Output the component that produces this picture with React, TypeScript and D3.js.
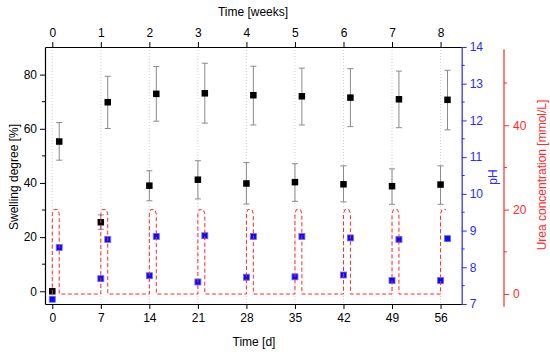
import * as d3 from 'd3';
import React, { useEffect, useRef } from 'react';

// swelling, group measured one day after urea dosing (days 1, 8, ...)
const swellHighDays = [1, 8, 15, 22, 29, 36, 43, 50, 57];
const swellHigh = [55.3, 69.8, 72.9, 73.1, 72.4, 72.0, 71.5, 70.9, 70.7];
const swellHighErrTop = [62.3, 79.4, 83.0, 84.2, 83.1, 82.4, 82.2, 81.3, 81.6];
const swellHighErrBot = [48.4, 60.1, 62.8, 62.1, 61.4, 61.4, 60.8, 60.4, 59.6];

// swelling, group measured on the dosing day (days 0, 7, ...)
const swellLowDays = [0, 7, 14, 21, 28, 35, 42, 49, 56];
const swellLow = [0, 25.5, 39.0, 41.2, 39.8, 40.3, 39.5, 38.8, 39.4];
const swellLowErrTop = [0, 28.2, 44.5, 48.2, 47.5, 47.1, 46.3, 45.2, 46.3];
const swellLowErrBot = [0, 22.9, 33.4, 34.1, 32.2, 33.2, 33.0, 32.1, 32.1];

// pH
const phDays = [0, 1, 7, 8, 14, 15, 21, 22, 28, 29, 35, 36, 42, 43, 49, 50, 56, 57];
const phValues = [7.13, 8.54, 7.69, 8.76, 7.77, 8.84, 7.6, 8.86, 7.73, 8.84, 7.74, 8.84, 7.79, 8.8, 7.64, 8.76, 7.64, 8.78];

// urea dosing pulses
const ureaStartDays = [0, 7, 14, 21, 28, 35, 42, 49, 56];
const ureaConc = 20;
const ureaDuration = 1;

const dayTicks = [0, 7, 14, 21, 28, 35, 42, 49, 56];
const weekTicks = [0, 1, 2, 3, 4, 5, 6, 7, 8];
const swellTicks = [0, 20, 40, 60, 80];
const swellMinor = [10, 30, 50, 70];
const phTicks = [7, 8, 9, 10, 11, 12, 13, 14];
const phMinor = [7.5, 8.5, 9.5, 10.5, 11.5, 12.5, 13.5];
const ureaTicks = [0, 20, 40];
const ureaMinor = [10, 30, 50];

const W = 550;
const H = 352;
const L = 45;
const R = 461.7;
const T = 47;
const B = 304;
const FONT = "'Liberation Sans', Arial, sans-serif";
const BLUE = '#2a2aff';
const RED = '#ff2a2a';

const Chart = () => {
  const ref = useRef<SVGSVGElement>(null);

  useEffect(() => {
    const svg = d3.select(ref.current);
    svg.selectAll('*').remove();

    const x = d3.scaleLinear().domain([-1.05, 59.05]).range([L, R]);
    const xw = d3.scaleLinear().domain([-1.05 / 7, 59.05 / 7]).range([L, R]);
    const y = d3.scaleLinear().domain([-4.7, 90.2]).range([B, T]);
    const yPh = d3.scaleLinear().domain([7, 14]).range([B, T]);
    const yU = d3.scaleLinear().domain([-3, 58]).range([306.7, 49.3]);
    const fmt = d3.format('d');

    // dotted grid at weekly positions
    svg
      .append('g')
      .selectAll('line')
      .data(dayTicks)
      .join('line')
      .attr('x1', (d) => x(d))
      .attr('x2', (d) => x(d))
      .attr('y1', T)
      .attr('y2', B)
      .attr('stroke', '#c8c8c8')
      .attr('stroke-width', 0.8)
      .attr('stroke-dasharray', '1,2');

    // axes
    const axisStyle = (g: any, color: string) => {
      g.selectAll('text').style('font-family', FONT).style('font-size', '12px').attr('fill', color);
      g.selectAll('line').attr('stroke', color);
      g.select('.domain').attr('stroke', color).attr('stroke-width', 1.2);
    };

    const gb = svg
      .append('g')
      .attr('transform', `translate(0,${B})`)
      .call(d3.axisBottom(x).tickValues(dayTicks).tickFormat(fmt).tickSize(5).tickSizeOuter(0).tickPadding(4));
    axisStyle(gb, '#000');

    const gt = svg
      .append('g')
      .attr('transform', `translate(0,${T})`)
      .call(d3.axisTop(xw).tickValues(weekTicks).tickFormat(fmt).tickSize(5).tickSizeOuter(0).tickPadding(5));
    axisStyle(gt, '#000');

    const gl = svg
      .append('g')
      .attr('transform', `translate(${L},0)`)
      .call(d3.axisLeft(y).tickValues(swellTicks).tickFormat(fmt).tickSize(5).tickSizeOuter(0).tickPadding(3));
    axisStyle(gl, '#000');
    gl.selectAll('.minor')
      .data(swellMinor)
      .join('line')
      .attr('x1', 0)
      .attr('x2', -3)
      .attr('y1', (d) => y(d))
      .attr('y2', (d) => y(d))
      .attr('stroke', '#000');

    const gp = svg
      .append('g')
      .attr('transform', `translate(${R},0)`)
      .call(d3.axisRight(yPh).tickValues(phTicks).tickFormat(fmt).tickSize(5).tickSizeOuter(0).tickPadding(3));
    axisStyle(gp, BLUE);
    gp.select('.domain').attr('stroke', '#5050ff').attr('stroke-width', 1.5);
    gp.selectAll('.minor')
      .data(phMinor)
      .join('line')
      .attr('x1', 0)
      .attr('x2', 3)
      .attr('y1', (d) => yPh(d))
      .attr('y2', (d) => yPh(d))
      .attr('stroke', BLUE);

    const gu = svg
      .append('g')
      .attr('transform', `translate(504,0)`)
      .call(d3.axisRight(yU).tickValues(ureaTicks).tickFormat(fmt).tickSize(5).tickSizeOuter(0).tickPadding(4));
    axisStyle(gu, RED);
    gu.select('.domain').attr('d', `M0,${yU.range()[0]}V${yU.range()[1]}`).attr('stroke-width', 1.2);
    gu.selectAll('.minor')
      .data(ureaMinor)
      .join('line')
      .attr('x1', 0)
      .attr('x2', 3)
      .attr('y1', (d) => yU(d))
      .attr('y2', (d) => yU(d))
      .attr('stroke', RED);

    // error bars
    const errs = [
      ...swellHighDays.map((d, i) => ({ x: d, t: swellHighErrTop[i], b: swellHighErrBot[i] })),
      ...swellLowDays.map((d, i) => ({ x: d, t: swellLowErrTop[i], b: swellLowErrBot[i] })),
    ].filter((e) => e.t !== e.b);

    const ge = svg.append('g').attr('stroke', '#8a8a8a').attr('stroke-width', 1);
    ge.selectAll('.v')
      .data(errs)
      .join('line')
      .attr('x1', (d) => x(d.x))
      .attr('x2', (d) => x(d.x))
      .attr('y1', (d) => y(d.t))
      .attr('y2', (d) => y(d.b));
    ge.selectAll('.ct')
      .data(errs)
      .join('line')
      .attr('x1', (d) => x(d.x) - 3)
      .attr('x2', (d) => x(d.x) + 3)
      .attr('y1', (d) => y(d.t))
      .attr('y2', (d) => y(d.t));
    ge.selectAll('.cb')
      .data(errs)
      .join('line')
      .attr('x1', (d) => x(d.x) - 3)
      .attr('x2', (d) => x(d.x) + 3)
      .attr('y1', (d) => y(d.b))
      .attr('y2', (d) => y(d.b));

    // swelling markers
    const sw = [
      ...swellHighDays.map((d, i) => [d, swellHigh[i]]),
      ...swellLowDays.map((d, i) => [d, swellLow[i]]),
    ];
    const ms = 6.5;
    svg
      .append('g')
      .selectAll('rect')
      .data(sw)
      .join('rect')
      .attr('x', (d) => x(d[0]) - ms / 2)
      .attr('y', (d) => y(d[1]) - ms / 2)
      .attr('width', ms)
      .attr('height', ms)
      .attr('fill', '#000');

    // pH markers
    const mp = 6;
    svg
      .append('g')
      .selectAll('rect')
      .data(phDays.map((d, i) => [d, phValues[i]]))
      .join('rect')
      .attr('x', (d) => x(d[0]) - mp / 2)
      .attr('y', (d) => yPh(d[1]) - mp / 2)
      .attr('width', mp)
      .attr('height', mp)
      .attr('fill', '#0a0aff')
      .attr('stroke', '#6a6aff')
      .attr('stroke-width', 0.8);

    // urea step line with slightly rounded tops
    const pts: [number, number][] = [];
    ureaStartDays.forEach((s, i) => {
      const e = s + ureaDuration;
      pts.push([s, 0], [s, ureaConc * 0.95], [s + 0.2, ureaConc], [e - 0.2, ureaConc], [e, ureaConc * 0.95]);
      if (i < ureaStartDays.length - 1) pts.push([e, 0]);
    });
    const line = d3
      .line<[number, number]>()
      .x((d) => x(d[0]))
      .y((d) => yU(d[1]));
    svg
      .append('path')
      .attr('d', line(pts.slice(0, -1)) as string)
      .attr('fill', 'none')
      .attr('stroke', RED)
      .attr('stroke-width', 1)
      .attr('stroke-dasharray', '4,2.5');

    // titles
    const title = (t: string, tx: number, ty: number, rot: number, color: string) =>
      svg
        .append('text')
        .attr('transform', `translate(${tx},${ty}) rotate(${rot})`)
        .attr('text-anchor', 'middle')
        .attr('fill', color)
        .style('font-family', FONT)
        .style('font-size', '12px')
        .text(t);

    title('Time [weeks]', 253, 16, 0, '#000');
    title('Time [d]', 254, 346, 0, '#000');
    title('Swelling degree [%]', 18, 177, -90, '#000');
    title('pH', 497, 177, -90, BLUE);
    title('Urea concentration [mmol/L]', 546, 175, -90, RED);
  }, []);

  return <svg ref={ref} width={W} height={H} style={{ display: 'block' }} />;
};

export default function App() {
  return (
    <div style={{ position: 'absolute', left: 0, top: 0, background: '#fff' }}>
      <Chart />
    </div>
  );
}
